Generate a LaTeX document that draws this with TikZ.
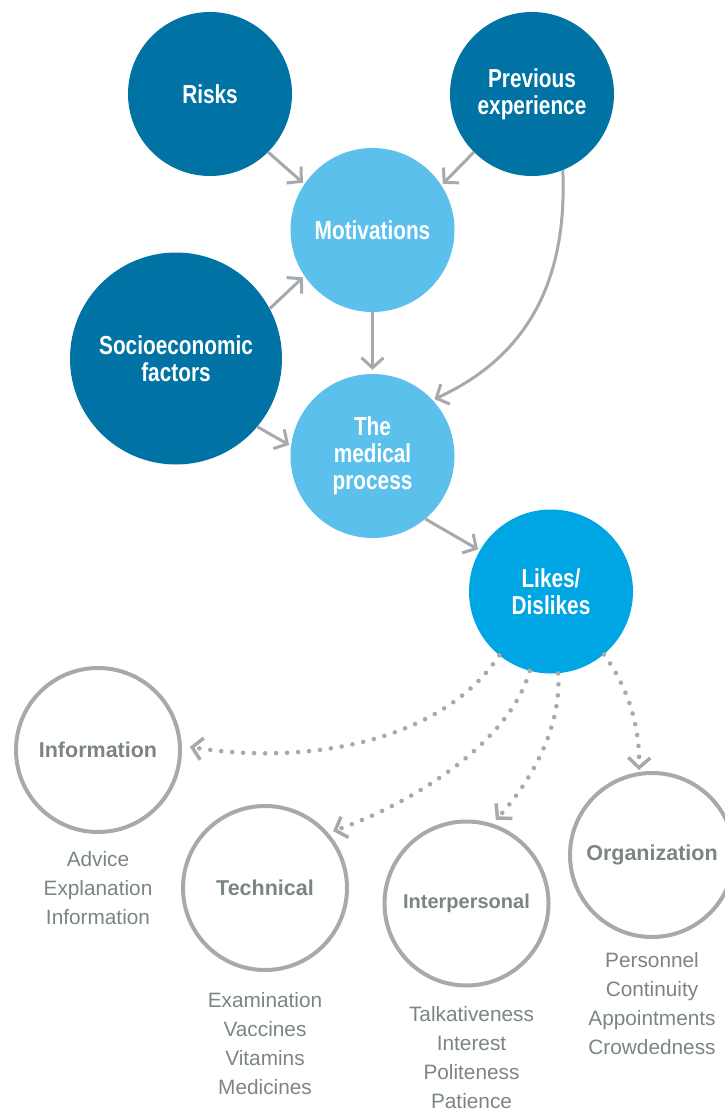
\documentclass[tikz,border=0pt]{standalone}
\usepackage{fontspec}
\setmainfont{Liberation Sans}
\newfontfamily\condfont{Liberation Sans}[FakeStretch=0.8]
\usepackage{tikz}
\usetikzlibrary{positioning, arrows.meta}

\definecolor{darkblue}{HTML}{0072A3}
\definecolor{lightblue}{HTML}{5CC0EC}
\definecolor{likeblue}{HTML}{00A5E3}
\definecolor{ringgray}{HTML}{A7A9AC}
\definecolor{textgray}{HTML}{7A8584}

\begin{document}
\begin{tikzpicture}[
    x=1pt, y=-1pt, % work in pixel units, y downwards
    circ/.style={circle, inner sep=0pt, minimum size=164pt, align=center, text=white,
        font=\condfont\bfseries\fontsize{26}{27}\selectfont},
    darkcirc/.style={circ, fill=darkblue},
    lightcirc/.style={circ, fill=lightblue},
    likecirc/.style={circ, fill=likeblue},
    ringcirc/.style={circle, draw=ringgray, line width=4pt, inner sep=0pt, minimum size=164pt,
        text=textgray, font=\bfseries\fontsize{21.5}{24}\selectfont},
    itemlist/.style={align=center, inner sep=0pt, text=textgray, font=\fontsize{20.8}{29}\selectfont},
    arrow/.style={-{Straight Barb[length=10pt, width=22pt, sharp]}, line width=3pt, draw=ringgray, shorten >=2pt},
    dotarrow/.style={-{Straight Barb[length=10pt, width=22pt, line width=3.5pt, sharp]}, line width=4.6pt, draw=ringgray,
        line cap=round, dash pattern=on 0pt off 11pt, shorten >=5pt}
]
\useasboundingbox (0,0) rectangle (724,1113);

% top circles
\node[darkcirc] (risks) at (210,94) {Risks};
\node[darkcirc] (prev) at (532,94) {Previous\\experience};
\node[lightcirc] (motiv) at (372.5,230) {Motivations};
\node[darkcirc, minimum size=212pt] (socio) at (176,358.5) {Socioeconomic\\factors};
\node[lightcirc] (medical) at (372.5,456) {The\\medical\\process};
\node[likecirc] (likes) at (551,591.5) {Likes/\\Dislikes};

% outlined circles
\node[ringcirc] (info) at (98,750) {Information};
\node[ringcirc] (tech) at (265,888) {Technical};
\node[ringcirc, font=\bfseries\fontsize{20}{24}\selectfont] (interp) at (466.5,903.5) {Interpersonal};
\node[ringcirc] (org) at (652,855) {Organization};

% lists under the circles
\node[itemlist, below=17.5pt of info] (info_list) {Advice\\Explanation\\Information};
\node[itemlist, below=20.5pt of tech] (tech_list) {Examination\\Vaccines\\Vitamins\\Medicines};
\node[itemlist, below=19pt of interp, xshift=5pt] (interp_list) {Talkativeness\\Interest\\Politeness\\Patience};
\node[itemlist, below=13.5pt of org] (org_list) {Personnel\\Continuity\\Appointments\\Crowdedness};

% solid arrows
\draw[arrow] (risks.-45) -- (motiv.146);
\draw[arrow] (prev.225) -- (motiv.33);
\draw[arrow] (socio.28) -- (motiv.214);
\draw[arrow, shorten >=4pt] (motiv.south) -- (medical.north);
\draw[arrow] (socio.-40) -- (medical.173);
\draw[arrow] (prev.-68) .. controls (568,290) and (520,360) .. (medical.43);
\draw[arrow] (medical.-50) -- (likes.150);

% dotted arrows
\draw[dotarrow, shorten >=8pt] (likes.231) .. controls (440,745) and (300,765) .. (info.3);
\draw[dotarrow] (likes.-105) .. controls (510,740) and (420,800) .. (tech.41);
\draw[dotarrow] (likes.-85) .. controls (562,730) and (528,785) .. (interp.72);
\draw[dotarrow, shorten >=2pt] (likes.-50) .. controls (630,690) and (640,730) .. (org.99);
\end{tikzpicture}
\end{document}
